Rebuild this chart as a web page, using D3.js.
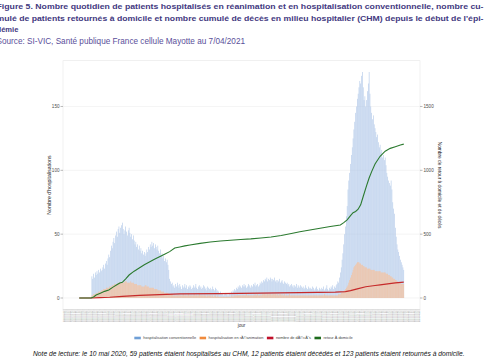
<!DOCTYPE html>
<html>
<head>
<meta charset="utf-8">
<script src="https://cdn.jsdelivr.net/npm/d3@7"></script>
<style>
  body { margin: 0; background: #fff; }
  svg { display: block; font-family: "Liberation Sans", Arial, sans-serif; }
</style>
</head>
<body>
<div id="chart"></div>
<script>
const TITLE_LINES = [
  "Figure 5.  Nombre quotidien de patients hospitalisés en réanimation et en hospitalisation conventionnelle, nombre cu-",
  "mulé de patients retournés à domicile et nombre cumulé de décès en milieu hospitalier (CHM) depuis le début de l'épi-",
  "démie"
];
const SOURCE = "Source: SI-VIC, Santé publique France cellule Mayotte au 7/04/2021";
const NOTE = "Note de lecture: le 10 mai 2020, 59 patients étaient hospitalisés au CHM, 12 patients étaient décédés et 123 patients étaient retournés à domicile.";

const LEGEND = [
  { key: "conv", label: "hospitalisation conventionnelle", color: "#6f9fd6" },
  { key: "rea", label: "hospitalisation en rÃ©animation", color: "#f08a3c" },
  { key: "deces", label: "nombre de dÃ©cÃ¨s", color: "#c0102a" },
  { key: "retour", label: "retour Ã  domicile", color: "#1d6b1d" }
];

const LEFT_TICKS = [0, 50, 100, 150];
const RIGHT_TICKS = [0, 500, 1000, 1500];

// first day of the series, last day of the series
const FIRST_DAY = "2020-03-19";
const LAST_DAY = "2021-04-07";
// bars begin on 2020-04-03, one value per day
const BAR_START = "2020-04-03";

const convValues = [
  17,15,19,16,20,18,21,19,22,20,
  23,21,22,24,26,23,27,29,26,31,
  34,32,37,41,39,44,47,43,49,52,
  48,54,56,51,55,57,59,54,50,53,
  56,52,49,53,55,51,48,50,46,49,
  45,42,44,40,42,38,41,37,39,35,
  37,34,36,33,35,38,36,40,38,42,
  40,44,41,43,39,42,40,38,41,37,
  35,38,33,35,31,33,29,31,28,30,
  26,22,15,13,11,12,9,10,8,11,
  9,12,10,8,11,9,7,10,8,9,
  11,8,10,7,9,8,10,9,7,8,
  10,8,9,11,8,7,9,10,8,9,
  7,8,10,9,7,8,6,9,8,7,
  8,6,7,9,7,6,8,7,5,6,
  5,4,5,3,4,3,2,3,4,3,
  2,3,2,4,3,5,4,6,5,7,
  6,8,7,9,8,10,9,8,10,9,
  11,9,10,8,9,11,10,9,8,10,
  9,11,10,12,9,10,11,9,10,12,
  11,13,12,14,13,15,14,16,13,15,
  14,16,15,13,15,14,16,13,14,12,
  14,13,15,12,13,14,12,11,13,12,
  11,12,10,11,9,10,11,9,10,8,
  10,9,11,8,10,9,8,10,9,8,
  9,7,8,10,8,7,9,8,7,8,
  7,9,8,6,7,8,9,7,6,8,
  7,6,8,7,9,6,7,8,10,7,
  6,8,7,9,8,10,7,9,8,10,
  11,13,12,16,20,24,30,35,42,50,
  56,64,72,85,92,98,105,112,118,125,
  132,138,145,150,156,160,165,170,168,174,
  177,165,155,158,150,155,162,168,177,160,
  150,145,140,143,136,133,130,126,128,122,
  118,120,114,116,110,112,108,110,104,98,
  95,92,90,88,92,85,75,70,66,55,
  48,42,38,36,33,30,28,26,24,22
];

const reaValues = [
  2,2,3,3,3,4,4,4,5,5,
  5,6,6,6,7,7,7,8,8,8,
  8,9,9,9,10,10,10,11,11,11,
  11,12,12,12,12,12,12,12,12,13,
  13,13,12,12,12,12,13,12,12,12,
  11,11,11,11,10,10,10,10,10,9,
  9,9,9,10,10,9,9,9,8,8,
  8,8,8,8,7,7,7,7,6,6,
  6,6,5,5,5,5,4,4,4,4,
  4,3,3,3,3,3,2,2,2,2,
  2,2,2,3,2,2,2,2,3,2,
  2,2,2,2,3,2,2,2,2,2,
  2,3,2,2,2,2,2,3,2,2,
  2,2,2,2,2,2,1,2,2,2,
  2,1,2,2,1,2,2,1,1,2,
  1,1,1,1,1,1,1,1,1,1,
  1,1,1,1,1,2,1,2,1,2,
  2,2,2,2,2,2,2,2,2,2,
  2,2,2,3,2,2,2,2,2,2,
  2,2,2,3,2,2,3,2,2,2,
  3,2,3,3,3,3,2,3,3,3,
  3,3,3,2,3,3,3,3,2,3,
  3,2,3,3,2,3,2,2,3,2,
  2,2,2,2,3,2,2,2,2,2,
  2,2,2,2,2,2,2,2,2,2,
  2,2,2,2,2,2,2,2,2,2,
  2,2,2,2,2,2,2,2,2,2,
  2,2,2,2,2,3,2,2,2,2,
  2,2,2,2,2,2,2,2,2,2,
  2,2,3,3,3,4,4,5,5,6,
  7,8,9,10,12,14,16,18,20,22,
  24,25,26,27,28,28,28,27,27,26,
  26,25,25,24,24,24,23,23,23,23,
  22,22,22,22,22,21,21,21,21,21,
  21,21,20,20,20,20,20,20,19,19,
  19,18,18,17,17,16,16,15,15,14,
  14,13,13,12,12,12,11,11,11,11
];

// cumulative lines, day offsets counted from FIRST_DAY
const returnDays = [0, 14, 17, 20, 25, 30, 35, 40, 45, 48, 51, 55, 59, 65, 71, 77, 83, 89, 95, 101, 107, 113, 119, 125, 131, 143, 155, 167, 179, 191, 203, 215, 227, 239, 251, 261, 273, 285, 297, 309, 313, 317, 321, 324, 327, 330, 333, 336, 340, 343, 346, 350, 356, 362, 368, 374, 380, 384];
const returnValues = [0, 0, 8, 23, 38, 52, 63, 85, 105, 117, 123, 150, 180, 210, 235, 260, 282, 303, 323, 343, 363, 391, 400, 408, 415, 428, 438, 447, 452, 458, 463, 470, 478, 490, 505, 519, 532, 546, 560, 572, 590, 612, 645, 668, 678, 695, 730, 795, 880, 940, 990, 1050, 1110, 1150, 1172, 1185, 1198, 1205];

const deathDays = [0, 15, 24, 36, 51, 71, 95, 119, 166, 214, 261, 303, 315, 321, 329, 339, 350, 356, 365, 374, 384];
const deathValues = [0, 0, 3, 6, 12, 20, 27, 32, 35, 38, 42, 46, 50, 58, 72, 88, 98, 103, 110, 118, 124];

const width = 485;
const height = 360;

const parse = d3.timeParse("%Y-%m-%d");
const first = parse(FIRST_DAY);
const last = parse(LAST_DAY);
const barStart = parse(BAR_START);
const dayOf = n => d3.timeDay.offset(first, n);

const svg = d3.select("#chart")
  .append("svg")
  .attr("width", width)
  .attr("height", height);

// titre
TITLE_LINES.forEach((t, i) => {
  const txt = svg.append("text")
    .attr("x", -3.5)
    .attr("y", 9 + i * 11.5)
    .attr("fill", "#43397f")
    .style("font-size", "7.6px")
    .style("font-weight", "bold")
    .text(t);
  if (i < 2) txt.attr("textLength", 487).attr("lengthAdjust", "spacingAndGlyphs");
});

svg.append("text")
  .attr("x", -3.5)
  .attr("y", 44)
  .attr("fill", "#5a4f9a")
  .style("font-size", "8.2px")
  .text(SOURCE);

// panneau
const panel = { left: 63, right: 420, top: 60.7, bottom: 309.3 };

const span = last - first;
const x = d3.scaleTime()
  .domain([new Date(+first - span * 0.05), new Date(+last + span * 0.05)])
  .range([panel.left, panel.right]);

const maxVal = d3.max(convValues);
const yLeft = d3.scaleLinear()
  .domain([-maxVal * 0.05, maxVal * 1.05])
  .range([panel.bottom, panel.top]);
const yRight = d3.scaleLinear()
  .domain(yLeft.domain().map(v => v * 10))
  .range([panel.bottom, panel.top]);

svg.append("rect")
  .attr("x", panel.left)
  .attr("y", panel.top)
  .attr("width", panel.right - panel.left)
  .attr("height", panel.bottom - panel.top)
  .attr("fill", "none")
  .attr("stroke", "#e6e6e6")
  .attr("stroke-width", 0.6);

svg.append("g")
  .selectAll("line")
  .data(LEFT_TICKS)
  .enter()
  .append("line")
  .attr("x1", panel.left)
  .attr("x2", panel.right)
  .attr("y1", d => yLeft(d))
  .attr("y2", d => yLeft(d))
  .attr("stroke", "#ececec")
  .attr("stroke-width", 0.6);

// barres
const step = x(dayOf(1)) - x(first);
const barW = step * 0.7;
const bars = convValues.map((v, i) => ({
  date: d3.timeDay.offset(barStart, i),
  conv: v,
  rea: reaValues[i]
}));

svg.append("g")
  .selectAll("rect")
  .data(bars)
  .enter()
  .append("rect")
  .attr("x", d => x(d.date) - barW / 2)
  .attr("y", d => yLeft(d.conv))
  .attr("width", barW)
  .attr("height", d => yLeft(0) - yLeft(d.conv))
  .attr("fill", "#aec6e8");

svg.append("g")
  .selectAll("rect")
  .data(bars)
  .enter()
  .append("rect")
  .attr("x", d => x(d.date) - barW / 2)
  .attr("y", d => yLeft(d.rea))
  .attr("width", barW)
  .attr("height", d => yLeft(0) - yLeft(d.rea))
  .attr("fill", "#fbbf94");

// courbes cumulées
const line = d3.line()
  .x(d => x(d.date))
  .y(d => yRight(d.value));

const deaths = deathDays.map((n, i) => ({ date: dayOf(n), value: deathValues[i] }));
const returns = returnDays.map((n, i) => ({ date: dayOf(n), value: returnValues[i] }));

svg.append("path")
  .datum(deaths)
  .attr("d", line)
  .attr("fill", "none")
  .attr("stroke", "#c62a2a")
  .attr("stroke-width", 1.2);

svg.append("path")
  .datum(returns)
  .attr("d", line)
  .attr("fill", "none")
  .attr("stroke", "#2b7a2f")
  .attr("stroke-width", 1.1);

// axes gauche et droit
const tickFont = "4.6px";
const leftAxis = svg.append("g");
LEFT_TICKS.forEach(t => {
  leftAxis.append("line")
    .attr("x1", panel.left - 2.5).attr("x2", panel.left)
    .attr("y1", yLeft(t)).attr("y2", yLeft(t))
    .attr("stroke", "#555").attr("stroke-width", 0.4);
  leftAxis.append("text")
    .attr("x", panel.left - 3.5)
    .attr("y", yLeft(t) + 1.6)
    .attr("text-anchor", "end")
    .attr("fill", "#4d4d4d")
    .style("font-size", tickFont)
    .text(t);
});

const rightAxis = svg.append("g");
RIGHT_TICKS.forEach(t => {
  rightAxis.append("line")
    .attr("x1", panel.right).attr("x2", panel.right + 2.5)
    .attr("y1", yRight(t)).attr("y2", yRight(t))
    .attr("stroke", "#555").attr("stroke-width", 0.4);
  rightAxis.append("text")
    .attr("x", panel.right + 3.5)
    .attr("y", yRight(t) + 1.6)
    .attr("fill", "#4d4d4d")
    .style("font-size", tickFont)
    .text(t);
});

// axe x : une étiquette par jour
const fmt = d3.timeFormat("%Y-%m-%d");
const days = d3.timeDay.range(d3.timeDay.ceil(x.domain()[0]), x.domain()[1]);
const xAxis = svg.append("g");
xAxis.selectAll("line")
  .data(days)
  .enter()
  .append("line")
  .attr("x1", d => x(d)).attr("x2", d => x(d))
  .attr("y1", panel.bottom).attr("y2", panel.bottom + 1.3)
  .attr("stroke", "#aaa").attr("stroke-width", 0.3);
xAxis.selectAll("text")
  .data(days)
  .enter()
  .append("text")
  .attr("transform", d => `translate(${x(d) + 0.6}, ${panel.bottom + 2})rotate(-90)`)
  .attr("text-anchor", "end")
  .attr("fill", "#a8a8a8")
  .style("font-size", "2.1px")
  .text(d => fmt(d));

svg.append("text")
  .attr("x", (panel.left + panel.right) / 2)
  .attr("y", 327)
  .attr("text-anchor", "middle")
  .attr("fill", "#333")
  .style("font-size", "4.6px")
  .text("jour");

svg.append("text")
  .attr("transform", `translate(51, ${(panel.top + panel.bottom) / 2})rotate(-90)`)
  .attr("text-anchor", "middle")
  .attr("fill", "#222")
  .style("font-size", "5.2px")
  .text("Nombre d'hospitalisations");

svg.append("text")
  .attr("transform", `translate(438, ${(panel.top + panel.bottom) / 2})rotate(90)`)
  .attr("text-anchor", "middle")
  .attr("fill", "#222")
  .style("font-size", "4.8px")
  .text("Nombre de retour à domicile et de décès");

// légende
const legend = svg.append("g");
let lx = 0;
LEGEND.forEach(l => {
  const g = legend.append("g");
  g.append("rect")
    .attr("width", 6.5)
    .attr("height", 2.6)
    .attr("y", -2.3)
    .attr("fill", l.color);
  const t = g.append("text")
    .attr("x", 9)
    .attr("y", 0)
    .attr("fill", "#444")
    .style("font-size", "3.9px")
    .text(l.label);
  const w = 9 + t.node().getComputedTextLength();
  g.attr("transform", `translate(${lx}, 0)`);
  lx += w + 3.5;
});
legend.attr("transform", `translate(${243.5 - (lx - 3.5) / 2}, 339)`);

svg.append("text")
  .attr("x", 33)
  .attr("y", 356)
  .attr("fill", "#111")
  .style("font-size", "6.7px")
  .style("font-style", "italic")
  .text(NOTE);
</script>
</body>
</html>
